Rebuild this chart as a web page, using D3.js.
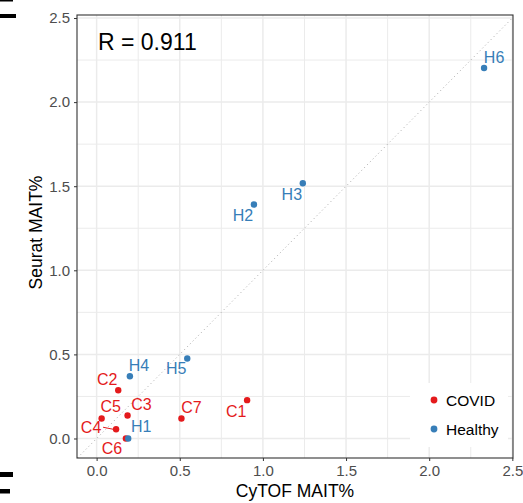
<!DOCTYPE html>
<html>
<head>
<meta charset="utf-8">
<script src="https://cdn.jsdelivr.net/npm/d3@7"></script>
<style>
  body { margin: 0; background: #fff; }
  svg { display: block; font-family: "Liberation Sans", Arial, sans-serif; }
</style>
</head>
<body>
<div id="chart"></div>
<script>
// chart values
var samples = ["C1", "C2", "C3", "C4", "C5", "C6", "C7", "H1", "H2", "H3", "H4", "H5", "H6"];
var groups = ["COVID", "COVID", "COVID", "COVID", "COVID", "COVID", "COVID",
              "Healthy", "Healthy", "Healthy", "Healthy", "Healthy", "Healthy"];
var cytof = [0.905, 0.13, 0.186, 0.117, 0.03, 0.176, 0.51, 0.19, 0.946, 1.24, 0.2, 0.545, 2.33];
var seurat = [0.228, 0.287, 0.137, 0.055, 0.119, 0.0, 0.119, 0.0, 1.391, 1.518, 0.37, 0.476, 2.203];
var legendGroups = ["COVID", "Healthy"];
var tickValues = [0, 0.5, 1, 1.5, 2, 2.5];
var minorValues = [0.25, 0.75, 1.25, 1.75, 2.25];
var rLabel = "R = 0.911";

// label nudges (px) the way ggrepel placed them
var labelNudge = {
  C1: [-11, 11], C2: [-11, -11], C3: [14, -11], C4: [-25, -2], C5: [9, -12],
  C6: [-14, 10], C7: [10, -11], H1: [13, -12], H2: [-11, 11], H3: [-11, 11],
  H4: [9, -11], H5: [-11, 10], H6: [10, -11]
};

var WIDTH = 523, HEIGHT = 503;
var panelL = 77, panelR = 513, panelT = 15, panelB = 458;

var colour = d3.scaleOrdinal().domain(legendGroups).range(["#E41A1C", "#377EB8"]);
var x = d3.scaleLinear().domain([-0.118, 2.504]).range([panelL, panelR]);
var y = d3.scaleLinear().domain([-0.116, 2.518]).range([panelB, panelT]);

var svg = d3.select("#chart").append("svg")
    .attr("width", WIDTH)
    .attr("height", HEIGHT);

// bits of the neighbouring figure that show at the left edge
svg.append("rect").attr("x", 0).attr("y", 0).attr("width", 13).attr("height", 1.5).attr("fill", "#000");
svg.append("rect").attr("x", 0).attr("y", 14).attr("width", 16).attr("height", 4).attr("fill", "#000");
svg.append("rect").attr("x", 0).attr("y", 472).attr("width", 13).attr("height", 5).attr("fill", "#000");
svg.append("rect").attr("x", 0).attr("y", 489).attr("width", 10).attr("height", 4.5).attr("fill", "#000");

svg.append("clipPath").attr("id", "panel")
  .append("rect").attr("x", panelL).attr("y", panelT).attr("width", panelR - panelL).attr("height", panelB - panelT);

var grid = svg.append("g");
grid.selectAll(".vminor").data(minorValues).enter().append("line")
    .attr("x1", function (d) { return x(d); }).attr("x2", function (d) { return x(d); })
    .attr("y1", panelT).attr("y2", panelB)
    .attr("stroke", "#EBEBEB").attr("stroke-width", 1);
grid.selectAll(".hminor").data(minorValues).enter().append("line")
    .attr("y1", function (d) { return y(d); }).attr("y2", function (d) { return y(d); })
    .attr("x1", panelL).attr("x2", panelR)
    .attr("stroke", "#EBEBEB").attr("stroke-width", 1);
grid.selectAll(".vmajor").data(tickValues).enter().append("line")
    .attr("x1", function (d) { return x(d); }).attr("x2", function (d) { return x(d); })
    .attr("y1", panelT).attr("y2", panelB)
    .attr("stroke", "#EBEBEB").attr("stroke-width", 1.5);
grid.selectAll(".hmajor").data(tickValues).enter().append("line")
    .attr("y1", function (d) { return y(d); }).attr("y2", function (d) { return y(d); })
    .attr("x1", panelL).attr("x2", panelR)
    .attr("stroke", "#EBEBEB").attr("stroke-width", 1.5);

// identity line
svg.append("line")
    .attr("clip-path", "url(#panel)")
    .attr("x1", x(-0.2)).attr("y1", y(-0.2))
    .attr("x2", x(2.6)).attr("y2", y(2.6))
    .attr("stroke", "#A8A8A8").attr("stroke-width", 1)
    .attr("stroke-dasharray", "1,3");

// axes
var xAxis = svg.append("g")
    .attr("transform", "translate(0," + panelB + ")")
    .call(d3.axisBottom(x).tickValues(tickValues).tickFormat(d3.format(".1f")).tickSize(3).tickPadding(4));
var yAxis = svg.append("g")
    .attr("transform", "translate(" + panelL + ",0)")
    .call(d3.axisLeft(y).tickValues(tickValues).tickFormat(d3.format(".1f")).tickSize(3).tickPadding(4));
[xAxis, yAxis].forEach(function (a) {
  a.select(".domain").remove();
  a.selectAll("line").attr("stroke", "#333");
  a.selectAll("text").attr("fill", "#4D4D4D").style("font-size", "15px")
    .style("font-family", "Liberation Sans, Arial, sans-serif");
});

// panel border
svg.append("rect")
    .attr("x", panelL).attr("y", panelT).attr("width", panelR - panelL).attr("height", panelB - panelT)
    .attr("fill", "none").attr("stroke", "#333").attr("stroke-width", 1.1);

// points
svg.selectAll(".pt").data(samples).enter().append("circle")
    .attr("cx", function (d, i) { return x(cytof[i]); })
    .attr("cy", function (d, i) { return y(seurat[i]); })
    .attr("r", 3.2)
    .attr("fill", function (d, i) { return colour(groups[i]); });

// C4 leader segment
var c4 = samples.indexOf("C4");
svg.append("line")
    .attr("x1", x(cytof[c4]) + labelNudge.C4[0] + 12).attr("y1", y(seurat[c4]) + labelNudge.C4[1])
    .attr("x2", x(cytof[c4]) - 3).attr("y2", y(seurat[c4]))
    .attr("stroke", colour("COVID")).attr("stroke-width", 1);

// point labels
svg.selectAll(".lab").data(samples).enter().append("text")
    .attr("x", function (d, i) { return x(cytof[i]) + labelNudge[d][0]; })
    .attr("y", function (d, i) { return y(seurat[i]) + labelNudge[d][1]; })
    .attr("dy", "0.36em")
    .attr("text-anchor", "middle")
    .style("font-size", "16px")
    .attr("fill", function (d, i) { return colour(groups[i]); })
    .text(function (d) { return d; });

// R annotation
svg.append("text")
    .attr("x", 98).attr("y", 50)
    .style("font-size", "23px")
    .attr("fill", "#000")
    .text(rLabel);

// legend
var legend = svg.append("g");
legend.append("rect")
    .attr("x", 410).attr("y", 383).attr("width", 98).attr("height", 64)
    .attr("fill", "#fff");
var item = legend.selectAll(".item").data(legendGroups).enter().append("g")
    .attr("transform", function (d, i) { return "translate(434," + (400 + i * 29) + ")"; });
item.append("circle").attr("r", 3.4).attr("fill", function (d) { return colour(d); });
item.append("text")
    .attr("x", 12).attr("dy", "0.36em")
    .style("font-size", "15.5px")
    .attr("fill", "#000")
    .text(function (d) { return d; });

// axis titles
svg.append("text")
    .attr("x", (panelL + panelR) / 2).attr("y", 497)
    .attr("text-anchor", "middle")
    .style("font-size", "17.5px")
    .text("CyTOF MAIT%");
svg.append("text")
    .attr("transform", "translate(42,232.5) rotate(-90)")
    .attr("text-anchor", "middle")
    .style("font-size", "17.5px")
    .text("Seurat MAIT%");
</script>
</body>
</html>
